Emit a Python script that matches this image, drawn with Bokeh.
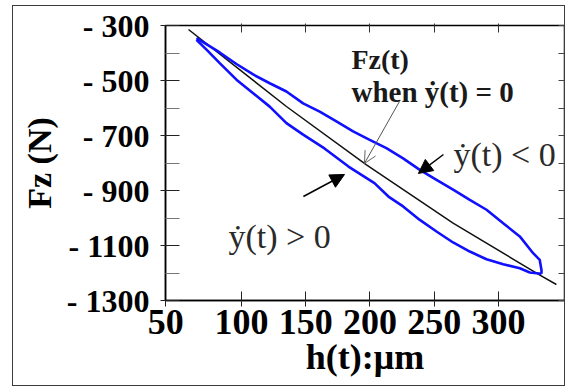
from bokeh.plotting import figure
from bokeh.models import Range1d, LinearAxis, FixedTicker, Label, Arrow, NormalHead, OpenHead
from bokeh.embed import file_html
from bokeh.resources import INLINE

# ---- data ----
x_ticks = [41, 100, 150, 200, 250, 300]
x_tick_labels = ["50", "100", "150", "200", "250", "300"]
y_ticks = [-300, -500, -700, -900, -1100, -1300]
y_tick_labels = ["- 300", "- 500", "- 700", "- 900", "- 1100", "- 1300"]
y_minor = [-400, -600, -800, -1000, -1200]

# branch with dy/dt < 0 (upper blue)
upper_h = [65.0, 83.1, 96.1, 109.1, 122.0, 135.0, 148.0, 160.9, 173.9, 186.9, 199.8,
           212.8, 225.8, 238.8, 251.8, 264.7, 277.7, 290.7, 303.7, 316.6, 327.0,
           332.1, 333.5, 333.5]
upper_fz = [-346, -398, -440, -478, -510, -540, -583, -613, -649, -685, -716,
            -746, -783, -825, -861, -897, -934, -970, -1019, -1067, -1128,
            -1152, -1190, -1203]
# branch with dy/dt > 0 (lower blue)
lower_h = [65.0, 72.8, 83.1, 96.1, 109.1, 122.0, 135.0, 148.0, 164.6, 183.3, 203.5,
           214.4, 225.8, 238.8, 251.8, 264.7, 277.7, 290.7, 303.7, 316.6, 324.4, 333.5]
lower_fz = [-352, -388, -437, -497, -546, -595, -655, -697, -747, -813, -873,
            -922, -958, -1007, -1049, -1089, -1122, -1150, -1168, -1183, -1198, -1203]
# Fz(t) when dy/dt = 0 (black)
zero_h = [58.8, 135.0, 197.3, 264.7, 331.9, 345.1]
zero_fz = [-314.5, -594.5, -806.5, -1018.9, -1206.5, -1241.8]

SERIF = "Liberation Serif"

p = figure(width=553, height=381, output_backend="svg", toolbar_location=None,
           x_range=Range1d(40.9, 351.4), y_range=Range1d(-1300, -300),
           min_border_left=152, min_border_right=2, min_border_top=19, min_border_bottom=87,
           x_axis_label="h(t):\u03bcm", y_axis_label="Fz (N)")
p.margin = (5, 0, 0, 12)
p.styles = {"border": "1.5px solid #3c3c3c"}
p.grid.visible = False
p.outline_line_color = "black"
p.outline_line_width = 1.5
p.background_fill_color = "white"
p.border_fill_color = "white"

# bottom axis
xa = p.xaxis[0]
xa.ticker = FixedTicker(ticks=x_ticks)
xa.major_label_overrides = {t: l for t, l in zip(x_ticks, x_tick_labels)}
xa.major_tick_in = 9
xa.major_tick_out = 6
xa.minor_tick_line_color = None
xa.axis_line_color = "black"
xa.axis_line_width = 1.5
xa.major_tick_line_color = "#222222"
xa.major_label_text_font = SERIF
xa.major_label_text_font_style = "bold"
xa.major_label_text_font_size = "36px"
xa.major_label_text_color = "black"
xa.major_label_standoff = 3
xa.axis_label_text_font = SERIF
xa.axis_label_text_font_style = "bold"
xa.axis_label_text_font_size = "36px"
xa.axis_label_text_color = "black"
xa.axis_label_standoff = 0

# left axis
ya = p.yaxis[0]
ya.ticker = FixedTicker(ticks=y_ticks, minor_ticks=y_minor)
ya.major_label_overrides = {t: l for t, l in zip(y_ticks, y_tick_labels)}
ya.major_tick_in = 14
ya.major_tick_out = 5
ya.minor_tick_in = 14
ya.minor_tick_out = 0
ya.minor_tick_line_color = "#777777"
ya.major_tick_line_color = "#222222"
ya.axis_line_color = "black"
ya.axis_line_width = 1.5
ya.major_label_text_font = SERIF
ya.major_label_text_font_style = "bold"
ya.major_label_text_font_size = "32px"
ya.major_label_text_color = "black"
ya.major_label_standoff = 11
ya.axis_label_text_font = SERIF
ya.axis_label_text_font_style = "bold"
ya.axis_label_text_font_size = "34px"
ya.axis_label_text_color = "black"
ya.axis_label_standoff = 6

# top and right tick-only axes (no labels)
top = LinearAxis(ticker=FixedTicker(ticks=x_ticks[1:]), major_tick_in=7, major_tick_out=2,
                 minor_tick_line_color=None, major_label_text_font_size="0px",
                 major_label_text_color=None, major_label_standoff=0, axis_line_color=None,
                 major_tick_line_color="#333333")
p.add_layout(top, "above")
right = LinearAxis(ticker=FixedTicker(ticks=sorted(y_ticks + y_minor)), major_tick_in=6,
                   major_tick_out=0, minor_tick_line_color=None, major_label_text_font_size="0px",
                   major_label_text_color=None, major_label_standoff=0, axis_line_color=None,
                   major_tick_line_color="#444444")
p.add_layout(right, "right")

# curves
p.line(zero_h, zero_fz, line_color="#111111", line_width=1.5)
p.line(upper_h, upper_fz, line_color="#1010ff", line_width=2.6)
p.line(lower_h, lower_fz, line_color="#1010ff", line_width=2.6)

# annotations
p.add_layout(Label(x=185.6, y=-423.6, text="Fz(t)", text_font=SERIF, text_font_style="bold",
                   text_font_size="28px", text_color="#1a1a1a", text_align="left",
                   text_baseline="alphabetic"))
p.add_layout(Label(x=185.6, y=-540, text="when \u1e8f(t) = 0", text_font=SERIF,
                   text_font_style="bold", text_font_size="29px", text_color="#1a1a1a",
                   text_align="left", text_baseline="alphabetic"))
p.add_layout(Label(x=265.0, y=-769, text="\u1e8f(t) < 0", text_font=SERIF,
                   text_font_size="34px", text_color="#2a2a2a", text_align="left",
                   text_baseline="alphabetic", background_fill_color="white"))
p.add_layout(Label(x=89.9, y=-1067, text="\u1e8f(t) > 0", text_font=SERIF,
                   text_font_size="34px", text_color="#2a2a2a", text_align="left",
                   text_baseline="alphabetic"))

p.add_layout(Arrow(end=OpenHead(size=12, line_color="#666666", line_width=1),
                   x_start=223.0, y_start=-576, x_end=195.7, y_end=-801.8,
                   line_color="#555555", line_width=1))
p.add_layout(Arrow(end=NormalHead(size=14, fill_color="black", line_color="black"),
                   x_start=257.2, y_start=-769, x_end=237.7, y_end=-838,
                   line_color="black", line_width=1.5))
p.add_layout(Arrow(end=NormalHead(size=14, fill_color="black", line_color="black"),
                   x_start=148.2, y_start=-921.8, x_end=180.2, y_end=-841.8,
                   line_color="black", line_width=1.5))

open("out.html", "w").write(file_html(p, INLINE))
